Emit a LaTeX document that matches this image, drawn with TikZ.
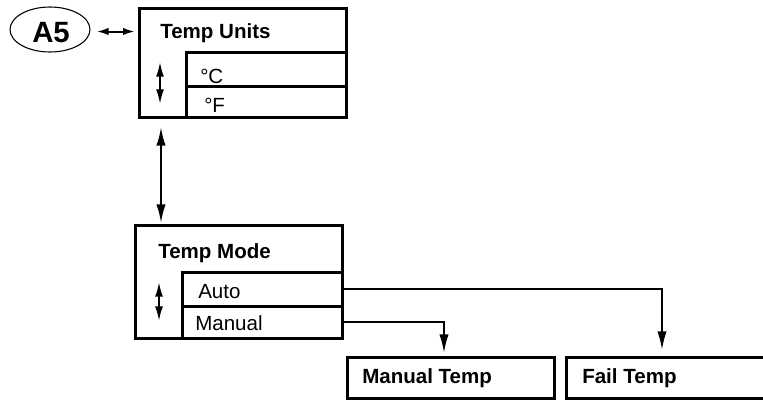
\documentclass[tikz,border=0pt]{standalone}
\usepackage{fontspec}
\setmainfont{Liberation Sans}
\usetikzlibrary{arrows.meta,shapes.geometric}
\begin{document}
\begin{tikzpicture}[x=0.75pt,y=-0.75pt,
  box/.style={draw,line width=2.25pt,inner sep=0pt,outer sep=0pt,anchor=north west},
  txt/.style={inner sep=0pt,anchor=base west,font=\fontsize{15.4pt}{18pt}\selectfont},
  btxt/.style={txt,font=\fontsize{15.4pt}{18pt}\selectfont\bfseries},
  conn/.style={line width=1.5pt,-{Latex[length=14pt,width=7pt]}},
  dbl/.style={line width=1.5pt,{Latex[length=14pt,width=7pt]}-{Latex[length=14pt,width=7pt]}},
  sdbl/.style={line width=1.5pt,{Latex[length=11pt,width=6pt]}-{Latex[length=11pt,width=6pt]}},
  adbl/.style={line width=1.5pt,{Latex[length=9pt,width=5.5pt]}-{Latex[length=9pt,width=5.5pt]}}
]
\useasboundingbox (0,0) rectangle (763,400);

% A5 ellipse
\node[ellipse,draw,line width=0.8pt,minimum width=60pt,minimum height=33.75pt,inner sep=0pt] (a5) at (50,29.5) {};
\node[txt,font=\fontsize{22pt}{24pt}\selectfont\bfseries] (a5t) at (32,42) {A5};

% Temp Units
\node[box,minimum width=155.25pt,minimum height=81.75pt] (units) at (139,8) {};
\node[box,minimum width=120pt,minimum height=25.5pt] (uc) at (186,52) {};
\node[box,minimum width=120pt,minimum height=23.25pt] (uf) at (186,86) {};
\node[btxt] (unitst) at (160,38) {Temp Units};
\node[txt] (uct) at (200,83) {°C};
\node[txt] (uft) at (204,112) {°F};
\coordinate (ua1) at (160,62);
\coordinate (ua2) at (160,104);
\draw[sdbl] (ua1) -- (ua2);

% A5 arrow
\draw[adbl] ([xshift=4.5pt,yshift=-1.5pt]a5.east) -- ([xshift=-3pt,yshift=-1.5pt]a5.east -| units.west);

% vertical link
\coordinate (v1) at (161,127);
\coordinate (v2) at (161,223);
\draw[dbl] (v1) -- (v2);

% Temp Mode
\node[box,minimum width=155.25pt,minimum height=84.75pt] (mode) at (135,225) {};
\node[box,minimum width=120pt,minimum height=25.5pt] (auto) at (182,272) {};
\node[box,minimum width=120pt,minimum height=24pt] (manual) at (182,306) {};
\node[btxt] (modet) at (158,258) {Temp Mode};
\node[txt] (autot) at (198,298) {Auto};
\node[txt] (manualt) at (195,330) {Manual};
\coordinate (ma1) at (159,282);
\coordinate (ma2) at (159,321);
\draw[sdbl] (ma1) -- (ma2);

% Targets
\node[box,minimum width=155.25pt,minimum height=30.75pt] (mtemp) at (347,357) {};
\node[box,minimum width=170pt,minimum height=30.75pt] (ftemp) at (566,357) {};
\node[btxt] (mtempt) at (362,383) {Manual Temp};
\node[btxt] (ftempt) at (582,383) {Fail Temp};

\coordinate (mt) at (444,353);
\coordinate (ft) at (662,350);
\draw[conn] (manual.east) -| (mt);
\draw[conn] (auto.east) -| (ft);
\end{tikzpicture}
\end{document}
